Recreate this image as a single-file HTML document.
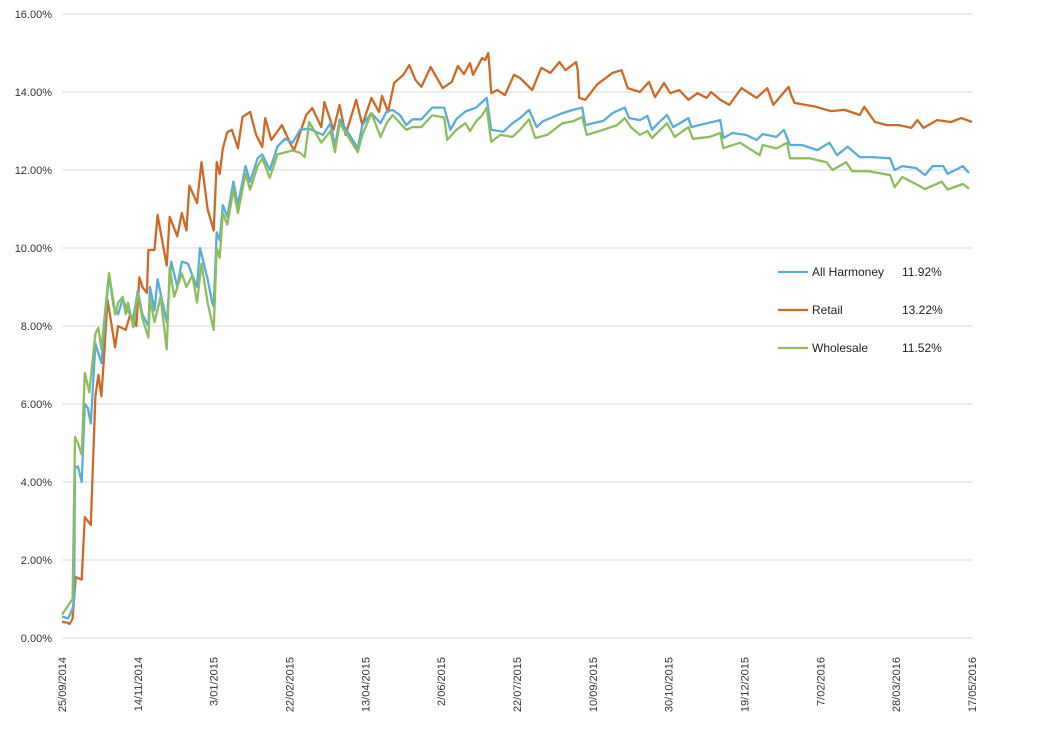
<!DOCTYPE html>
<html><head><meta charset="utf-8"><style>
body{margin:0;background:#fff;}
svg{display:block;font-family:"Liberation Sans",sans-serif;}
</style></head><body>
<svg id="chart" width="1047" height="730">
<g id="grid"></g>
<g id="yaxis"></g>
<g id="xaxis"></g>
<g id="series"></g>
<g id="legend"></g>
</svg>
<script>
const yTicks=[0,2,4,6,8,10,12,14,16];
const xTickDays=[0,50,100,150,200,250,300,350,400,450,500,550,600];
const xTickLabels=["25/09/2014","14/11/2014","3/01/2015","22/02/2015","13/04/2015","2/06/2015","22/07/2015","10/09/2015","30/10/2015","19/12/2015","7/02/2016","28/03/2016","17/05/2016"];
const seriesNames=["All Harmoney","Retail","Wholesale"];
const latestValues=["11.92%","13.22%","11.52%"];

const allDays=[0,4,7,8,8.6,10.5,13,15,17,19,22,24,26,30,31,34,37,40,43,47,50,53,57,58,61,63,69,72,76,79,83,86,89,91,96,99,100,102,104,106,109,113,116,121,124,129,132,137,142,147,152,157,163,172,177,180,183,188,195,198,204,210,214,218,223,227,231,237,244,252,256,260,266,273,280,283,291,297,302,308,313,317,330,337,343,345,350,357,363,371,374,381,386,389,393,399,403,413,415,420,434,436,442,451,458,462,471,476,480,488,498,506,511,518,526,534,546,549,554,563,569,574,581,584,594,598];
const allVals=[0.55,0.5,0.75,1.0,4.36,4.4,4.0,6.0,5.9,5.5,7.55,7.3,7.05,8.9,9.3,8.5,8.3,8.7,8.4,8.2,8.9,8.3,8.0,9.0,8.4,9.2,8.1,9.65,9.0,9.65,9.6,9.3,9.0,10.0,9.2,8.6,8.5,10.4,10.2,11.1,10.8,11.7,11.1,12.1,11.7,12.3,12.4,12.0,12.6,12.8,12.7,13.03,13.06,12.9,13.2,12.6,13.3,13.0,12.56,13.15,13.46,13.2,13.5,13.54,13.4,13.15,13.3,13.3,13.6,13.6,13.03,13.3,13.5,13.6,13.85,13.03,12.98,13.2,13.33,13.54,13.1,13.25,13.46,13.54,13.6,13.15,13.2,13.26,13.46,13.6,13.33,13.28,13.39,13.03,13.2,13.41,13.1,13.33,13.1,13.15,13.28,12.82,12.95,12.9,12.77,12.92,12.85,13.03,12.64,12.64,12.51,12.7,12.38,12.6,12.33,12.33,12.3,12.0,12.1,12.05,11.87,12.1,12.1,11.9,12.1,11.92];

const retailDays=[0,3,5,7,9,13,15,19,20,22,24,26,28,30,32,35,37,42,45,49,51,53,56,57,61,63,69,71,76,79,82,84,89,92,96,100,102,104,106,109,112,116,119,124,128,132,134,138,145,151,153,161,165,171,173,179,183,187,194,198,204,209,211,215,219,225,229,233,237,243,251,257,261,265,269,271,277,279,281,282,283,287,292,298,302,310,316,322,328,332,339,340,341,345,353,363,369,373,381,387,391,397,401,407,413,419,425,428,434,440,448,458,465,469,479,481,483,497,507,516,526,529,536,544,552,560,564,568,577,586,593,600];
const retailVals=[0.41,0.4,0.36,0.5,1.56,1.5,3.1,2.9,4.0,6.2,6.75,6.2,7.4,8.67,8.2,7.45,8.0,7.9,8.3,8.0,9.25,9.0,8.85,9.95,9.95,10.85,9.55,10.8,10.3,10.9,10.45,11.6,11.15,12.2,11.0,10.45,12.2,11.9,12.55,12.97,13.03,12.56,13.36,13.49,12.9,12.59,13.33,12.77,13.15,12.64,12.51,13.41,13.59,13.1,13.74,13.03,13.67,12.9,13.8,13.15,13.85,13.49,13.9,13.49,14.23,14.44,14.69,14.31,14.13,14.64,14.1,14.26,14.67,14.46,14.74,14.44,14.87,14.82,15.0,14.56,13.97,14.05,13.92,14.44,14.36,14.05,14.62,14.49,14.77,14.56,14.77,14.56,13.85,13.8,14.2,14.49,14.56,14.1,14.0,14.26,13.87,14.23,13.97,14.05,13.8,13.97,13.85,14.0,13.8,13.67,14.1,13.85,14.1,13.67,14.13,13.9,13.72,13.62,13.51,13.54,13.41,13.62,13.23,13.15,13.15,13.08,13.28,13.08,13.28,13.23,13.33,13.23];

const wholeDays=[0,7,8.6,10.5,13,15,18,22,24,26,30,31,34,35,37,40,42,43.5,47,50,53,57,58,61,65,69,71,74,79,82,86,89,92,96,100,102,104,106,109,113,116,121,124,129,132,137,142,152,157,160,163,171,177,180,183,195,198,204,210,214,218,227,231,237,244,252,254,260,266,269,273,277,280,283,289,297,302,308,312,320,330,337,343,346,357,366,371,375,381,386,389,399,404,413,416,427,434,436,447,460,462,471,478,480,493,504,508,517,521,532,546,549,554,563,569,580,584,594,598];
const wholeVals=[0.6,1.0,5.15,5.0,4.7,6.8,6.3,7.8,7.95,7.4,9.0,9.36,8.6,8.3,8.6,8.75,8.3,8.6,7.97,8.85,8.2,7.7,8.7,8.1,8.75,7.4,9.5,8.75,9.35,9.0,9.3,8.6,9.6,8.6,7.9,10.0,9.75,10.9,10.6,11.5,10.9,11.9,11.5,12.1,12.3,11.8,12.4,12.5,12.44,12.33,13.23,12.7,13.0,12.46,13.2,12.46,12.9,13.46,12.85,13.2,13.41,13.03,13.1,13.1,13.4,13.35,12.77,13.03,13.2,13.0,13.25,13.4,13.6,12.72,12.9,12.85,13.03,13.3,12.82,12.9,13.2,13.25,13.36,12.9,13.03,13.15,13.33,13.1,12.9,13.0,12.82,13.2,12.85,13.1,12.8,12.85,12.95,12.56,12.7,12.38,12.64,12.55,12.7,12.3,12.3,12.2,12.0,12.2,11.97,11.97,11.87,11.56,11.82,11.64,11.51,11.7,11.5,11.64,11.52];

const NS="http://www.w3.org/2000/svg";
const X0=62,X1=972,Y0=638,Y1=14;
function xs(d){return X0+(d-0)/600*(X1-X0);}
function ys(v){return Y0-(v-0)/16*(Y0-Y1);}
function mk(tag,attrs,parent){const e=document.createElementNS(NS,tag);for(const k in attrs)e.setAttribute(k,attrs[k]);parent.appendChild(e);return e;}

const grid=document.getElementById('grid'),yax=document.getElementById('yaxis'),xax=document.getElementById('xaxis'),ser=document.getElementById('series'),leg=document.getElementById('legend');
yTicks.forEach(t=>{
  const l=mk('line',{x1:X0,x2:X1,y1:ys(t),y2:ys(t),stroke:'#d9d9d9','stroke-width':1},grid);
  
  
  const tx=mk('text',{x:52,y:ys(t)+4,'text-anchor':'end','font-size':11,fill:'#333'},yax);
  tx.textContent=t.toFixed(2)+'%';
  
  
});
xTickDays.forEach((d,i)=>{
  const x=xs(d);
  const tx=mk('text',{x:0,y:0,'text-anchor':'end','font-size':11,fill:'#333',transform:`translate(${x+4},657) rotate(-90)`},xax);
  tx.textContent=xTickLabels[i];
  
  
});
const colors=['#5aadd4','#cc6a28','#8dbd5c'];
const data=[[allDays,allVals],[retailDays,retailVals],[wholeDays,wholeVals]];
const order=[1,0,2];
order.forEach(i=>{
  const [dd,vv]=data[i];
  const pts=dd.map((d,j)=>xs(d).toFixed(1)+','+ys(vv[j]).toFixed(1)).join(' ');
  const p=mk('polyline',{points:pts,fill:'none',stroke:colors[i],'stroke-width':2.3,'stroke-linejoin':'round'},ser);
  
  
});
seriesNames.forEach((n,i)=>{
  const y=272+i*38;
  const l=mk('line',{x1:778,x2:808,y1:y,y2:y,stroke:colors[i],'stroke-width':2.3},leg);
  
  
  const t=mk('text',{x:812,y:y+4,'font-size':12,fill:'#222'},leg);
  t.textContent=n;
  
  
  const v=mk('text',{x:902,y:y+4,'font-size':12,fill:'#222'},leg);
  v.textContent=latestValues[i];
  
  
});
</script>
</body></html>
